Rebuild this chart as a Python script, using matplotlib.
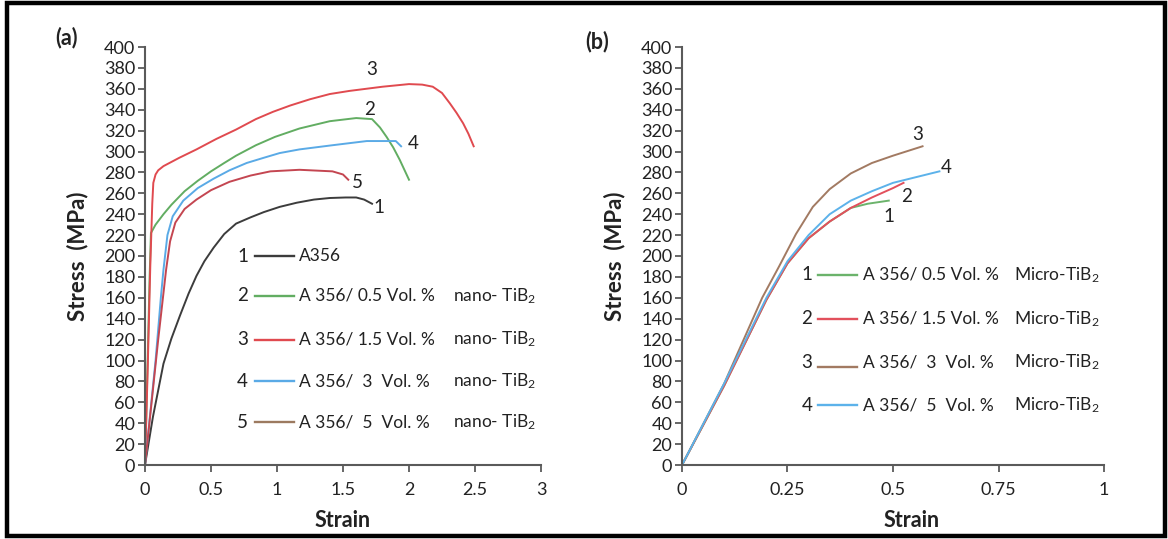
import matplotlib

matplotlib.use("Agg")
import matplotlib.pyplot as plt
from matplotlib.patches import Rectangle

plt.rcParams["font.family"] = ["Lato", "DejaVu Sans"]
plt.rcParams["mathtext.default"] = "regular"

# --- panel (a): nano-TiB2 -------------------------------------------------
a1_strain = [0, 0.06, 0.14, 0.20, 0.265, 0.33, 0.39, 0.45, 0.52, 0.60, 0.69, 0.80, 0.90, 1.02, 1.15, 1.28,
             1.40, 1.52, 1.60, 1.66, 1.72]
a1_stress = [0, 46, 97, 121, 143, 164, 181, 195, 208, 221, 231, 237, 242, 247, 251, 254,
             255.5, 256, 256, 254, 250]

a2_strain = [0, 0.02, 0.035, 0.045, 0.08, 0.14, 0.20, 0.30, 0.40, 0.50, 0.60, 0.69, 0.84, 0.985, 1.17, 1.40,
             1.60, 1.72, 1.78, 1.83, 1.88, 1.93, 2.0]
a2_stress = [0, 100, 180, 222, 230, 240, 249, 262, 272, 281, 289, 296, 306, 314, 322, 329,
             332, 331, 323, 314, 304, 292, 273]

a3_strain = [0, 0.02, 0.04, 0.055, 0.063, 0.08, 0.10, 0.14, 0.26, 0.39, 0.54, 0.69, 0.84, 0.97, 1.10, 1.25,
             1.40, 1.55, 1.80, 2.0, 2.10, 2.18, 2.25, 2.31, 2.36, 2.41, 2.45, 2.49]
a3_stress = [0, 90, 190, 250, 270, 278, 282, 286, 294, 302, 312, 321, 331, 338, 344, 350,
             355, 358, 362, 364.5, 364, 362, 356, 346, 337, 327, 317, 305]

a4_strain = [0, 0.04, 0.08, 0.12, 0.14, 0.17, 0.21, 0.29, 0.40, 0.52, 0.64, 0.77, 0.90, 1.02, 1.17, 1.42,
             1.68, 1.90, 1.94]
a4_stress = [0, 50, 100, 160, 187, 220, 238, 253, 265, 274, 282, 289, 294, 298.5, 302, 306,
             310, 310, 305]

a5_strain = [0, 0.05, 0.10, 0.16, 0.19, 0.23, 0.30, 0.39, 0.50, 0.64, 0.80, 0.95, 1.17, 1.42, 1.50, 1.54]
a5_stress = [0, 60, 120, 187, 214, 232, 245, 254, 263, 271, 277, 281, 282.5, 281, 278, 273]

a_curves = [(a1_strain, a1_stress), (a2_strain, a2_stress), (a3_strain, a3_stress),
            (a4_strain, a4_stress), (a5_strain, a5_stress)]
a_colors = ["#3c3c3c", "#62ad62", "#e04a4f", "#5aaae6", "#c44651"]
a_legend_colors = ["#3c3c3c", "#62ad62", "#e04a4f", "#5aaae6", "#9c7a60"]
a_ids = ["1", "2", "3", "4", "5"]
a_names = ["A356", "A 356/ 0.5 Vol. %", "A 356/ 1.5 Vol. %", "A 356/  3  Vol. %", "A 356/  5  Vol. %"]
a_suffix = ["", "nano- TiB$_2$", "nano- TiB$_2$", "nano- TiB$_2$", "nano- TiB$_2$"]
a_label_x = [1.77, 1.70, 1.72, 2.03, 1.61]
a_label_y = [246, 340, 378, 308, 270]
a_leg_y = [200, 162, 120, 80, 41]

# --- panel (b): micro-TiB2 ------------------------------------------------
b1_strain = [0, 0.10, 0.20, 0.25, 0.30, 0.35, 0.40, 0.44, 0.49]
b1_stress = [0, 76, 158, 193, 217, 233, 246, 250, 253]

b2_strain = [0, 0.10, 0.20, 0.25, 0.30, 0.35, 0.40, 0.45, 0.50, 0.525]
b2_stress = [0, 76, 158, 193, 217, 233, 246, 256, 265, 270]

b3_strain = [0, 0.10, 0.19, 0.23, 0.27, 0.31, 0.35, 0.40, 0.45, 0.50, 0.57]
b3_stress = [0, 78, 160, 190, 221, 247, 264, 279, 289, 296, 305]

b4_strain = [0, 0.10, 0.20, 0.25, 0.30, 0.35, 0.40, 0.45, 0.50, 0.55, 0.61]
b4_stress = [0, 78, 160, 195, 220, 240, 253, 262, 270, 275, 281]

b_curves = [(b1_strain, b1_stress), (b2_strain, b2_stress),
            (b3_strain, b3_stress), (b4_strain, b4_stress)]
b_colors = ["#6bb36b", "#e2505c", "#a27a62", "#5cb2ea"]
b_ids = ["1", "2", "3", "4"]
b_names = ["A 356/ 0.5 Vol. %", "A 356/ 1.5 Vol. %", "A 356/  3  Vol. %", "A 356/  5  Vol. %"]
b_suffix = ["Micro-TiB$_2$"] * 4
b_label_x = [0.491, 0.532, 0.558, 0.627]
b_label_y = [238, 257, 316, 285]
b_leg_y = [182, 140, 98, 57]

W, H = 1168, 539
fig = plt.figure(figsize=(W / 100, H / 100), dpi=100)

# outer frame
fig.patches.append(Rectangle((7 / W, 3 / H), 1158 / W, 533 / H, transform=fig.transFigure,
                             fill=False, edgecolor="black", linewidth=3.2))

axA = fig.add_axes([145 / W, 1 - 465 / H, 396 / W, 418 / H])
axB = fig.add_axes([682 / W, 1 - 465 / H, 422 / W, 418 / H])

TXT = "#222222"


def style(ax, xmax, xticks, xticklabels):
    ax.set_xlim(0, xmax)
    ax.set_ylim(0, 400)
    ax.set_yticks(range(0, 401, 20))
    ax.set_xticks(xticks)
    ax.set_xticklabels(xticklabels)
    for s in ["top", "right"]:
        ax.spines[s].set_visible(False)
    for s in ["left", "bottom"]:
        ax.spines[s].set_color("#5a5a5a")
        ax.spines[s].set_linewidth(1.5)
    ax.tick_params(axis="both", colors="#5a5a5a", labelcolor=TXT,
                   labelsize=13, length=5, width=1.3)
    ax.tick_params(axis="y", pad=2)
    ax.tick_params(axis="x", pad=7)
    ax.set_xlabel("Strain", fontsize=15.5, fontweight="bold", labelpad=9, color=TXT)
    ax.set_ylabel("Stress  (MPa)", fontsize=16, fontweight="bold", labelpad=11, color=TXT)
    ax.patch.set_alpha(0)


style(axA, 3, [0, 0.5, 1, 1.5, 2, 2.5, 3], ["0", "0.5", "1", "1.5", "2", "2.5", "3"])
style(axB, 1, [0, 0.25, 0.5, 0.75, 1], ["0", "0.25", "0.5", "0.75", "1"])
# the axis title of (b) sits a little right of the plot centre
axB.xaxis.label.set_x(0.545)

for (x, y), c in zip(a_curves, a_colors):
    axA.plot(x, y, color=c, linewidth=1.4, clip_on=False)
for (x, y), c in zip(b_curves, b_colors):
    axB.plot(x, y, color=c, linewidth=1.4, clip_on=False)

for i in range(len(a_ids)):
    axA.text(a_label_x[i], a_label_y[i], a_ids[i], fontsize=13.5, color=TXT,
             ha="center", va="center")
    y = a_leg_y[i]
    axA.text(0.74, y, a_ids[i], fontsize=13.5, color=TXT, ha="center", va="center")
    axA.plot([0.835, 1.13], [y, y], color=a_legend_colors[i], linewidth=1.7)
    axA.text(1.165, y, a_names[i], fontsize=12.5, color=TXT, ha="left", va="center")
    axA.text(2.335, y, a_suffix[i], fontsize=12.5, color=TXT, ha="left", va="center")

for i in range(len(b_ids)):
    axB.text(b_label_x[i], b_label_y[i], b_ids[i], fontsize=13.5, color=TXT,
             ha="center", va="center")
    y = b_leg_y[i]
    axB.text(0.296, y, b_ids[i], fontsize=13.5, color=TXT, ha="center", va="center")
    ly = y - 4 if b_ids[i] == "3" else y
    axB.plot([0.322, 0.415], [ly, ly], color=b_colors[i], linewidth=1.7)
    axB.text(0.428, y, b_names[i], fontsize=12.5, color=TXT, ha="left", va="center")
    axB.text(0.787, y, b_suffix[i], fontsize=12.5, color=TXT, ha="left", va="center")

fig.text(67 / W, 1 - 38 / H, "(a)", fontsize=15.5, fontweight="bold", ha="center", va="center", color=TXT)
fig.text(597 / W, 1 - 42 / H, "(b)", fontsize=15.5, fontweight="bold", ha="center", va="center", color=TXT)

fig.savefig("out.png", dpi=100)
